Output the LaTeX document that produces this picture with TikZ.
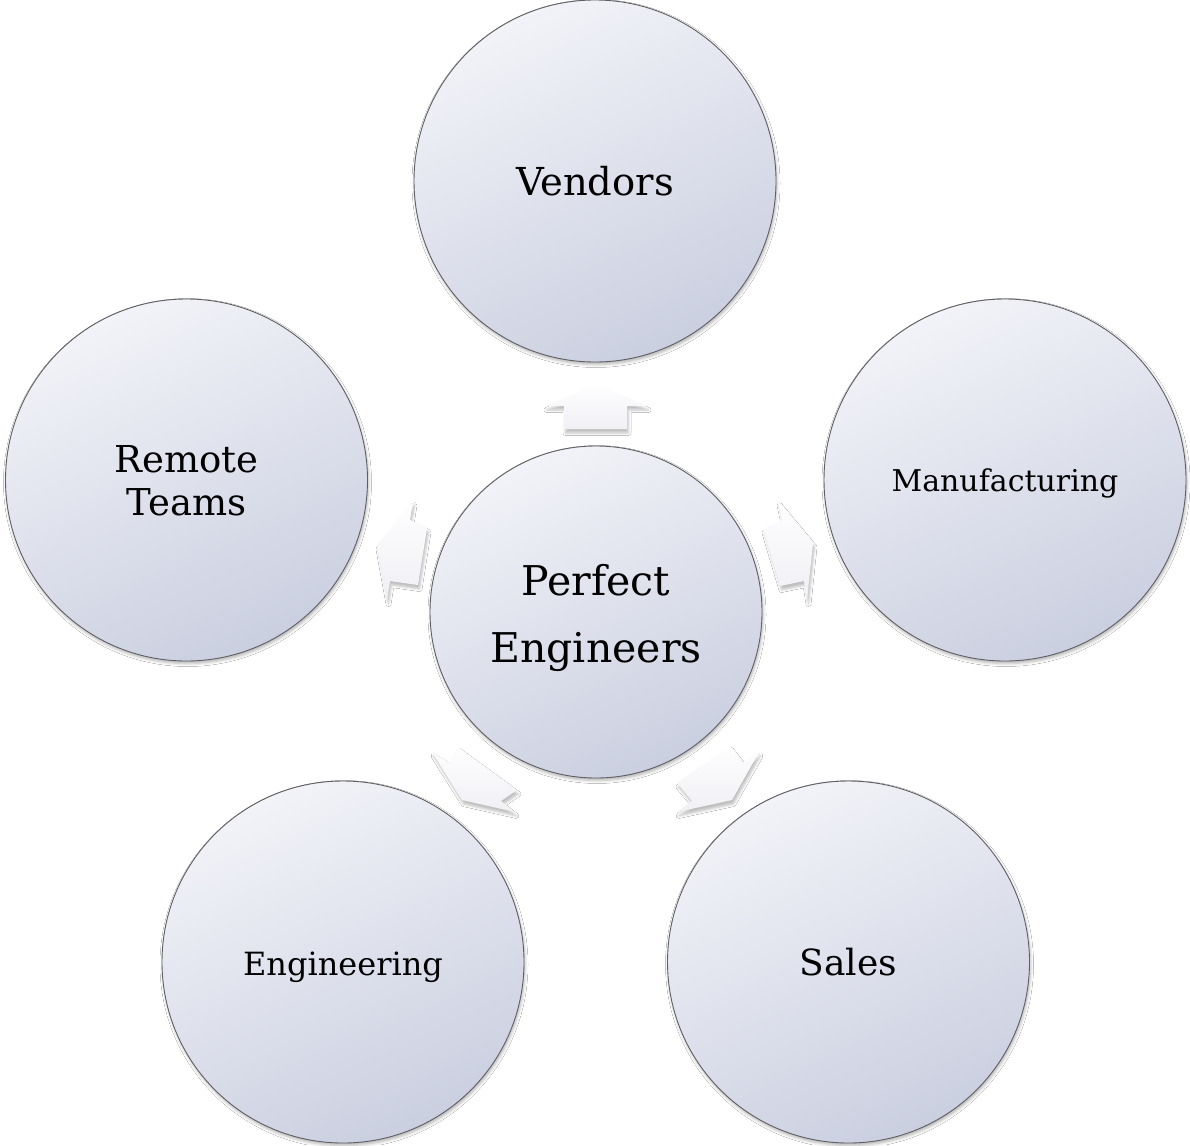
\documentclass[tikz,border=0pt]{standalone}
\usepackage{fontspec}
\setmainfont{DejaVu Serif}
\usetikzlibrary{shadows.blur}
\definecolor{cTop}{RGB}{242,243,248}
\definecolor{cBot}{RGB}{202,207,224}
\definecolor{cEdge}{RGB}{95,95,100}
\definecolor{aTop}{RGB}{254,254,255}
\definecolor{aBot}{RGB}{240,240,245}
\begin{document}
\begin{tikzpicture}[x=1pt,y=-1pt,
  bubble/.style={circle, draw=cEdge, line width=0.9pt, top color=cTop, bottom color=cBot, shading angle=25, inner sep=0pt,
    blur shadow={shadow xshift=1pt, shadow yshift=-2.5pt, shadow blur radius=3pt, shadow opacity=30}},
  outer/.style={bubble, minimum size=362pt},
  inner/.style={bubble, minimum size=332pt},
  lbl/.style={anchor=base, inner sep=0pt, text=black},
  blockarrow/.style={top color=aTop, bottom color=aBot, draw=none,
    blur shadow={shadow xshift=1.5pt, shadow yshift=-4pt, shadow blur radius=2.5pt, shadow opacity=25}},
]
\useasboundingbox (0,0) rectangle (1190,1145);
\fill[white] (0,0) rectangle (1190,1145);
% circles
\node[outer] (vendors) at (595,181) {};
\node[outer] (manuf) at (1005,480) {};
\node[outer] (remote) at (186.5,480) {};
\node[outer] (engin) at (343,962) {};
\node[outer] (sales) at (848.5,962) {};
\node[inner] (center) at (596,612) {};
% arrows
\path[blockarrow] (596,385) -- (647,406) -- (627,406) -- (627,429) -- (564,429) -- (564,406) -- (545,406) -- cycle;
\path[blockarrow] (778,501) -- (782,520) -- (763,529) -- (780,586) -- (804,581) -- (807,600) -- (813,543) -- cycle;
\path[blockarrow] (413,501) -- (410,520) -- (427,528) -- (418,585) -- (390,581) -- (387,600) -- (377,545) -- cycle;
\path[blockarrow] (432,752) -- (450,763) -- (458,747) -- (517,790) -- (501,801) -- (515,812) -- (462,800) -- cycle;
\path[blockarrow] (759,752) -- (743,763) -- (730,746) -- (677,783) -- (692,801) -- (677,812) -- (732,800) -- cycle;
% labels
\node[lbl, font=\fontsize{38.5}{44}\selectfont] (tvendors) at (595,195) {Vendors};
\node[lbl, font=\fontsize{30}{36}\selectfont] (tmanuf) at (1005,491) {Manufacturing};
\node[lbl, font=\fontsize{37}{43}\selectfont] (tremote1) at (186.5,472) {Remote};
\node[lbl, font=\fontsize{37}{43}\selectfont] (tremote2) at (186.5,515) {Teams};
\node[lbl, font=\fontsize{32}{38}\selectfont] (tengin) at (343,975) {Engineering};
\node[lbl, font=\fontsize{36}{42}\selectfont] (tsales) at (848.5,975) {Sales};
\node[lbl, font=\fontsize{41}{48}\selectfont] (tcenter1) at (596,595) {Perfect};
\node[lbl, font=\fontsize{41}{48}\selectfont] (tcenter2) at (596,662) {Engineers};
\end{tikzpicture}
\end{document}
